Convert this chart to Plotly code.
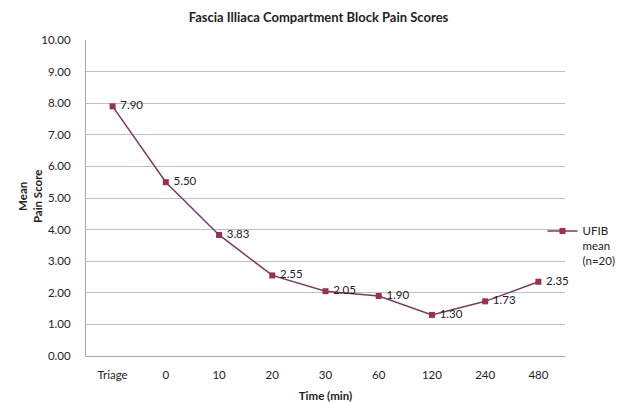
import plotly.graph_objects as go

categories = ["Triage", "0", "10", "20", "30", "60", "120", "240", "480"]
pain_scores = [7.90, 5.50, 3.83, 2.55, 2.05, 1.90, 1.30, 1.73, 2.35]
series_name = "UFIB<br>mean<br>(n=20)"
y_ticks = [0, 1, 2, 3, 4, 5, 6, 7, 8, 9, 10]

FONT = "Lato"
W, H = 621, 394  # page body adds an 8px margin
ML, MR, MT, MB = 78, 64, 32, 46
fig = go.Figure()
fig.add_trace(go.Scatter(
    x=categories, y=pain_scores, name=series_name,
    mode="lines+markers+text",
    text=[f" {v:.2f}" for v in pain_scores],
    textposition="middle right",
    cliponaxis=False,
    textfont=dict(family=FONT, size=11.5, color="#222222"),
    line=dict(color="#7A3A62", width=1.5),
    marker=dict(symbol="square", size=6, color="#9E2F4A"),
    showlegend=True,
))

fig.update_layout(
    width=W, height=H,
    margin=dict(l=ML, r=MR, t=MT, b=MB, autoexpand=False),
    paper_bgcolor="white", plot_bgcolor="white",
    title=dict(text="<b>Fascia Illiaca Compartment Block Pain Scores</b>",
               x=0.5, xanchor="center", y=1 - 9 / H, yanchor="middle",
               font=dict(family=FONT, size=13, color="#222222")),
    font=dict(family=FONT, size=11.5, color="#222222"),
    legend=dict(x=0.953, xanchor="left", y=0.44, yanchor="top",
                valign="top", bgcolor="rgba(0,0,0,0)",
                font=dict(family=FONT, size=11.5, color="#222222"),
                itemwidth=30, tracegroupgap=0),
    xaxis=dict(type="category", categoryorder="array", categoryarray=categories,
               range=[-0.5, len(categories) - 0.5], automargin=False,
               showgrid=False, showline=True, linecolor="#A6A6A6", linewidth=1,
               ticks="outside", ticklen=8, tickcolor="rgba(0,0,0,0)",
               tickfont=dict(family=FONT, size=11.5, color="#222222"),
               title=dict(text="<b>Time (min)</b>", standoff=20,
                          font=dict(family=FONT, size=11.5, color="#222222"))),
    yaxis=dict(range=[0, 10], tickvals=y_ticks, tickformat=".2f", automargin=False,
               showgrid=True, gridcolor="#BFBFBF", gridwidth=1,
               showline=True, linecolor="#A6A6A6", linewidth=1,
               zeroline=False, ticks="outside", ticklen=12, tickcolor="rgba(0,0,0,0)",
               tickfont=dict(family=FONT, size=11.5, color="#222222")),
    annotations=[dict(text="<b>Mean<br>Pain Score</b>", xref="paper", yref="paper",
                      x=(22 - ML) / (W - ML - MR), y=0.506, textangle=-90,
                      showarrow=False, xanchor="center", yanchor="middle",
                      font=dict(family=FONT, size=11.5, color="#222222"))],
)

fig.write_html("out.html")
